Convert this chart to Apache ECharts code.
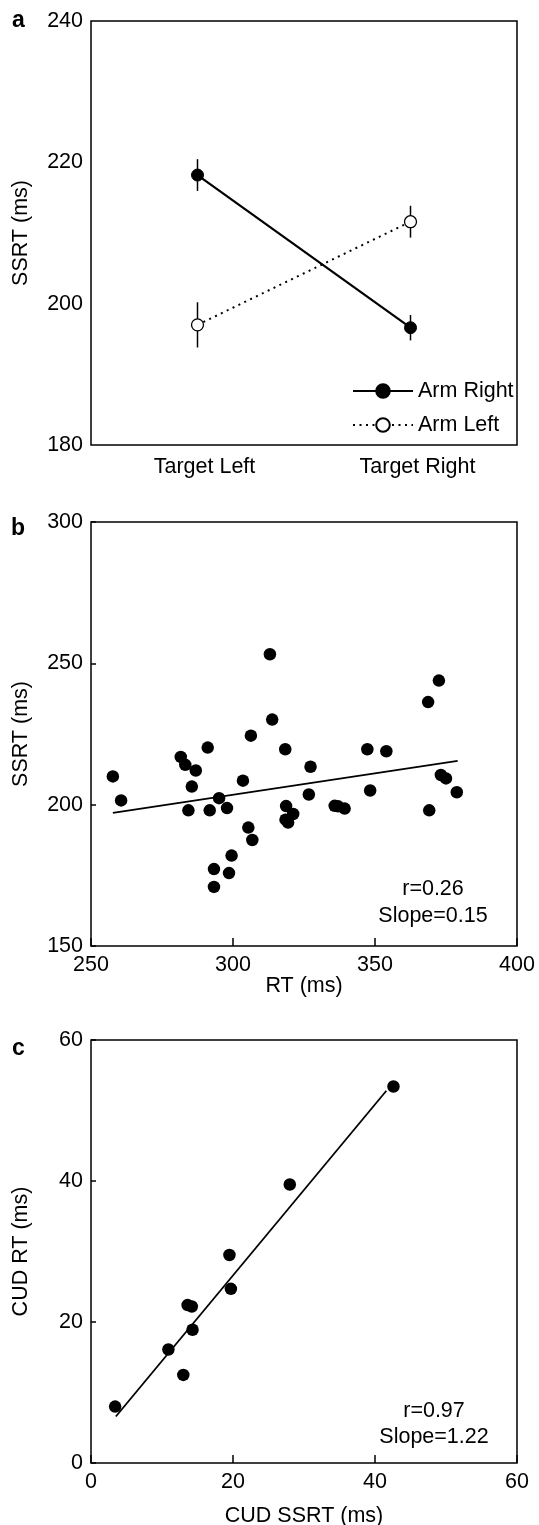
<!DOCTYPE html>
<html>
<head>
<meta charset="utf-8">
<script src="https://cdn.jsdelivr.net/npm/echarts@6/dist/echarts.min.js"></script>
<style>
  html, body { margin: 0; padding: 0; background: #fff; }
  #chart { width: 539px; height: 1525px; }
</style>
</head>
<body>
<div id="chart"></div>
<script>
// panel a: SSRT by target side and arm
const targetSides = ["Target Left", "Target Right"];
const armRight = [218.2, 196.6];
const armRightErr = [2.25, 1.8];
const armLeft = [197.0, 211.6];
const armLeftErr = [3.2, 2.25];

// panel b: RT vs SSRT per subject
const rtB = [257.7, 260.6, 281.6, 283.2, 286.9, 285.5, 284.3, 291.1, 291.8, 293.3,
  293.3, 295.1, 297.9, 298.6, 299.5, 303.5, 305.4, 306.8, 306.3, 313.0,
  313.8, 318.4, 318.7, 321.2, 318.5, 319.4, 327.3, 326.7, 335.8, 337.0,
  339.3, 347.3, 348.3, 354.0, 368.7, 372.5, 369.1, 373.2, 375.0, 378.8];
const ssrtB = [210.0, 201.5, 216.9, 214.1, 212.1, 206.4, 198.0, 220.2, 198.0, 177.2,
  170.9, 202.3, 198.8, 175.8, 182.0, 208.5, 191.9, 187.5, 224.4, 253.2,
  230.1, 219.6, 199.5, 196.7, 194.7, 193.7, 213.4, 203.6, 199.6, 199.4,
  198.6, 219.6, 205.0, 218.9, 236.3, 243.9, 198.0, 210.5, 209.3, 204.4];
const fitBx = [257.7, 379.1];
const fitBy = [197.1, 215.5];

// panel c: CUD SSRT vs CUD RT
const cudSsrt = [3.4, 10.9, 13.0, 13.6, 14.2, 14.3, 19.5, 19.7, 28.0, 42.6];
const cudRt = [8.0, 16.1, 12.5, 22.4, 22.2, 18.9, 29.5, 24.7, 39.5, 53.4];
const fitCx = [3.5, 41.6];
const fitCy = [6.6, 52.8];

const FONT = "Liberation Sans, Arial, Helvetica, sans-serif";
const FS = 21.5;
const txt = { color: "#000", fontSize: FS, fontFamily: FONT };

const zip = (a, b) => a.map((v, i) => [v, b[i]]);
const errData = (vals, errs) => vals.map((v, i) => [i, v - errs[i], v + errs[i]]);

const chart = echarts.init(document.getElementById("chart"), null, { renderer: "canvas" });

const gridBase = {
  left: 91, width: 426,
  show: true, borderColor: "#000", borderWidth: 1.5,
  backgroundColor: "transparent",
  outerBoundsMode: "none",
  containLabel: false,
};

const valueAxis = (extra) => Object.assign({
  type: "value",
  axisLine: { show: false },
  splitLine: { show: false },
  axisLabel: Object.assign({ margin: 8, showMinLabel: true, showMaxLabel: true }, txt),
  nameLocation: "middle",
  nameTextStyle: txt,
  nameMoveOverlap: false,
}, extra);

const tick = (len) => ({ inside: true, length: len, lineStyle: { color: "#000", width: 1.5 } });

const errorBarSeries = (name, vals, errs) => ({
  name: name + " err",
  type: "custom",
  xAxisIndex: 0,
  yAxisIndex: 0,
  z: 1,
  silent: true,
  encode: { x: 0, y: [1, 2] },
  data: errData(vals, errs),
  renderItem: (params, api) => {
    const hi = api.coord([api.value(0), api.value(2)]);
    const lo = api.coord([api.value(0), api.value(1)]);
    return {
      type: "line",
      shape: { x1: hi[0], y1: hi[1], x2: lo[0], y2: lo[1] },
      style: { stroke: "#000", lineWidth: 1.5 },
    };
  },
});

const statText = (x, y, text) => ({
  type: "text", x: x, y: y,
  style: { text: text, font: FS + "px " + FONT, fill: "#000", align: "center", verticalAlign: "middle" },
});

const letter = (x, y, text) => ({
  type: "text", left: x, top: y,
  style: { text: text, font: "bold 23px " + FONT, fill: "#000" },
});

const options = {
  animation: false,
  backgroundColor: "#fff",
  grid: [
    Object.assign({ top: 21, height: 424 }, gridBase),
    Object.assign({ top: 522, height: 424 }, gridBase),
    Object.assign({ top: 1040, height: 423 }, gridBase),
  ],
  xAxis: [
    {
      type: "category",
      gridIndex: 0,
      data: targetSides,
      boundaryGap: true,
      axisLine: { show: false },
      axisTick: tick(8),
      axisLabel: Object.assign({ margin: 11, padding: [0, 0, 0, 14] }, txt),
    },
    valueAxis({
      gridIndex: 1, min: 250, max: 400, interval: 50,
      axisTick: tick(8),
      name: "RT (ms)", nameGap: 29,
    }),
    valueAxis({
      gridIndex: 2, min: 0, max: 60, interval: 20,
      axisTick: tick(8),
      name: "CUD SSRT (ms)", nameGap: 42,
    }),
  ],
  yAxis: [
    valueAxis({
      gridIndex: 0, min: 180, max: 240, interval: 20,
      axisTick: tick(5),
      name: "SSRT (ms)", nameGap: 59,
    }),
    valueAxis({
      gridIndex: 1, min: 150, max: 300, interval: 50,
      axisTick: tick(5),
      name: "SSRT (ms)", nameGap: 59,
    }),
    valueAxis({
      gridIndex: 2, min: 0, max: 60, interval: 20,
      axisTick: tick(5),
      name: "CUD RT (ms)", nameGap: 59,
    }),
  ],
  legend: {
    data: ["Arm Right", "Arm Left"],
    orient: "vertical",
    left: 347,
    top: 375,
    itemWidth: 60,
    itemHeight: 17,
    itemGap: 12,
    selectedMode: false,
    textStyle: txt,
  },
  series: [
    errorBarSeries("Arm Right", armRight, armRightErr),
    errorBarSeries("Arm Left", armLeft, armLeftErr),
    {
      name: "Arm Right",
      type: "line",
      xAxisIndex: 0, yAxisIndex: 0,
      z: 3,
      data: armRight,
      symbol: "circle",
      symbolSize: 12,
      lineStyle: { color: "#000", width: 2.2 },
      itemStyle: { color: "#000", borderColor: "#000", borderWidth: 1 },
    },
    {
      name: "Arm Left",
      type: "line",
      xAxisIndex: 0, yAxisIndex: 0,
      z: 3,
      data: armLeft,
      symbol: "circle",
      symbolSize: 12,
      lineStyle: { color: "#000", width: 2, type: [2, 4.5] },
      itemStyle: { color: "#fff", borderColor: "#000", borderWidth: 1.3 },
    },
    {
      name: "RT",
      type: "scatter",
      xAxisIndex: 1, yAxisIndex: 1,
      data: zip(rtB, ssrtB),
      symbolSize: 12.5,
      itemStyle: { color: "#000", opacity: 1 },
    },
    {
      name: "RT fit",
      type: "line",
      xAxisIndex: 1, yAxisIndex: 1,
      data: zip(fitBx, fitBy),
      symbol: "none",
      lineStyle: { color: "#000", width: 1.8 },
    },
    {
      name: "CUD",
      type: "scatter",
      xAxisIndex: 2, yAxisIndex: 2,
      data: zip(cudSsrt, cudRt),
      symbolSize: 12.5,
      itemStyle: { color: "#000", opacity: 1 },
    },
    {
      name: "CUD fit",
      type: "line",
      xAxisIndex: 2, yAxisIndex: 2,
      data: zip(fitCx, fitCy),
      symbol: "none",
      lineStyle: { color: "#000", width: 1.8 },
    },
  ],
  graphic: [
    letter(12, 9, "a"),
    letter(11, 517, "b"),
    letter(12, 1037, "c"),
    statText(433, 889, "r=0.26"),
    statText(433, 916, "Slope=0.15"),
    statText(434, 1411, "r=0.97"),
    statText(434, 1437, "Slope=1.22"),
  ],
};

chart.setOption(options);
</script>
</body>
</html>
